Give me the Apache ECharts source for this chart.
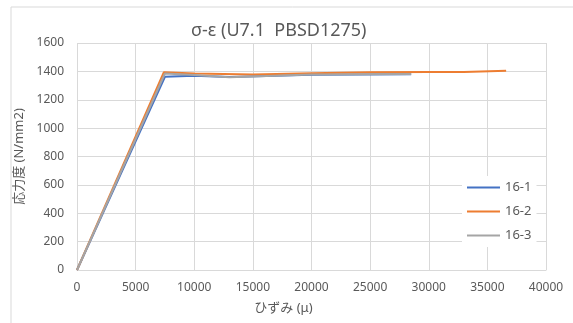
<!DOCTYPE html>
<html><head><meta charset="utf-8">
<script src="https://cdn.jsdelivr.net/npm/echarts@6/dist/echarts.min.js"></script>
<style>html,body{margin:0;padding:0;background:#fff}#c{width:573px;height:323px}</style>
</head><body><div id="c"></div>
<script>
const titleText = 'σ-ε (U7.1  PBSD1275)';
const xName = 'ひずみ (μ)';
const yName = '応力度 (N/mm2)';
const seriesNames = ['16-1', '16-2', '16-3'];
const s161 = [[0,0],[7500,1362],[10000,1370],[13000,1360],[20000,1376],[28500,1380]];
const s162 = [[0,0],[7400,1393],[10000,1385],[15000,1378],[20000,1387],[25000,1393],[30000,1395],[33000,1396],[36600,1405]];
const s163 = [[0,0],[7500,1385],[10000,1375],[13000,1358],[20000,1378],[28500,1382]];
const colors = ['#4472C4', '#ED7D31', '#A5A5A5'];

const chart = echarts.init(document.getElementById('c'));
const txt = '#595959';
const font = "'Noto Sans', 'Noto Sans CJK JP', sans-serif";
chart.setOption({
  animation: false,
  backgroundColor: '#fff',
  color: colors,
  graphic: [{type:'rect', shape:{x:11, y:7, width:700, height:500}, style:{fill:'none', stroke:'#D9D9D9', lineWidth:1}, silent:true, z:-1}],
  title: {text: titleText, left: 186, top: 17, textStyle: {color: txt, fontSize: 18, fontWeight: 'normal', fontFamily: font}},
  grid: {left: 77, right: 27, top: 43, bottom: 53},
  legend: {
    orient: 'vertical', left: 462, top: 176, itemWidth: 33, itemHeight: 12, itemGap: 11,
    backgroundColor: '#fff', padding: [5,5,5,5],
    icon: 'path://M0,5 L33,5 L33,7 L0,7 Z',
    textStyle: {color: txt, fontSize: 13, fontFamily: font},
    data: seriesNames
  },
  xAxis: {
    type: 'value', min: 0, max: 40000, interval: 5000,
    name: xName, nameLocation: 'middle', nameGap: 32,
    nameTextStyle: {color: txt, fontSize: 13, fontFamily: font, padding: [0, 56, 0, 0]},
    axisLine: {show: true, lineStyle: {color: '#D9D9D9'}},
    axisTick: {show: false},
    axisLabel: {color: txt, fontSize: 12, margin: 12, fontFamily: font, formatter: v => String(v)},
    splitLine: {show: true, lineStyle: {color: '#D9D9D9'}}
  },
  yAxis: {
    type: 'value', min: 0, max: 1600, interval: 200,
    name: yName, nameLocation: 'middle', nameGap: 47,
    nameTextStyle: {color: txt, fontSize: 13, fontFamily: font},
    axisLine: {show: false},
    axisTick: {show: false},
    axisLabel: {color: txt, fontSize: 12, margin: 13, fontFamily: font, formatter: v => String(v)},
    splitLine: {show: true, lineStyle: {color: '#D9D9D9'}}
  },
  series: [
    {name: seriesNames[0], type: 'line', data: s161, showSymbol: false, lineStyle: {width: 2}},
    {name: seriesNames[1], type: 'line', data: s162, showSymbol: false, lineStyle: {width: 2}},
    {name: seriesNames[2], type: 'line', data: s163, showSymbol: false, lineStyle: {width: 2}}
  ]
});
</script></body></html>
